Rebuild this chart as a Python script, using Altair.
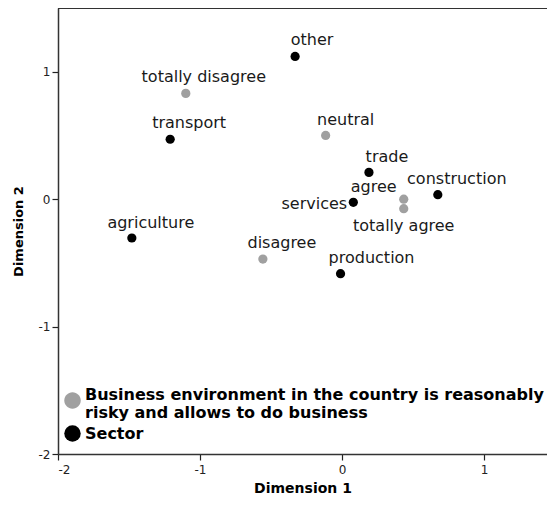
import altair as alt
import pandas as pd

# ---- data ----
labels = ["other", "totally disagree", "transport", "neutral", "trade", "agree",
          "totally agree", "construction", "services", "agriculture", "disagree", "production"]
dim1 = [-0.33, -1.10, -1.21, -0.115, 0.19, 0.435, 0.435, 0.675, 0.08, -1.48, -0.557, -0.01]
dim2 = [1.12, 0.83, 0.47, 0.50, 0.21, 0.0, -0.075, 0.035, -0.025, -0.305, -0.47, -0.585]
G1 = "Business environment in the country is reasonably risky and allows to do business"
G2 = "Sector"
groups = [G2, G1, G2, G1, G2, G1, G1, G2, G2, G2, G1, G2]
ticks = [-2, -1, 0, 1]

df = pd.DataFrame({"label": labels, "d1": dim1, "d2": dim2, "group": groups})

# label placement offsets (pixels), styling only
OFFS = {
    "other": (17, -16), "totally disagree": (18, -16), "transport": (19, -16),
    "neutral": (20, -15), "trade": (18, -15), "agree": (-30, -12),
    "totally agree": (0, 17), "construction": (19, -16), "services": (-39, 2),
    "agriculture": (19, -15), "disagree": (19, -16), "production": (31, -16),
}

FONT = "DejaVu Sans"
xs = alt.Scale(domain=[-2, 1.444], nice=False, zero=False)
ys = alt.Scale(domain=[-2, 1.5], nice=False, zero=False)
cscale = alt.Scale(domain=[G1, G2], range=["#a0a0a0", "#000000"])
# legend symbol for the two-line entry sits slightly lower (between its lines)
sscale = alt.Scale(domain=[G1, G2],
                   range=["M -1 0.72 A 1 1 0 1 0 1 0.72 A 1 1 0 1 0 -1 0.72 Z", "circle"])

leg = alt.Legend(
    title=None, orient="none", legendX=6, legendY=378,
    symbolSize=270, symbolStrokeWidth=0, symbolOpacity=1,
    labelFont=FONT, labelFontWeight="bold", labelFontSize=16, labelColor="#000",
    labelLimit=700, rowPadding=4, labelOffset=4,
    labelExpr="datum.label == 'Sector' ? datum.label : "
              "['Business environment in the country is reasonably', "
              "'risky and allows to do business']",
)

X = alt.X("d1:Q", scale=xs, title="Dimension 1",
          axis=alt.Axis(values=ticks, labelExpr="'' + datum.value", labelPadding=4,
                        titleFontSize=14, titlePadding=6))
Y = alt.Y("d2:Q", scale=ys, title="Dimension 2",
          axis=alt.Axis(values=ticks, labelExpr="'' + datum.value",
                        titleFontSize=13, titlePadding=13))

base = alt.Chart(df)

# invisible layer that carries the legend
ghost = base.mark_point(filled=True, opacity=0, size=1).encode(
    x=X, y=Y,
    color=alt.Color("group:N", scale=cscale, legend=leg),
    shape=alt.Shape("group:N", scale=sscale, legend=leg),
)

points = base.mark_point(filled=True, opacity=1, size=85, shape="circle").encode(
    x=X, y=Y,
    color=alt.Color("group:N", scale=cscale, legend=None),
)

texts = []
for lab in labels:
    dx, dy = OFFS[lab]
    texts.append(
        base.transform_filter(alt.datum.label == lab).mark_text(
            font=FONT, fontSize=16, color="#1a1a1a", align="center",
            baseline="middle", dx=dx, dy=dy,
        ).encode(x=alt.X("d1:Q", scale=xs), y=alt.Y("d2:Q", scale=ys), text="label:N")
    )

# top border of the frame
top_border = alt.Chart(df).mark_rule(color="#333333", strokeWidth=1.5).encode(
    y=alt.value(0)
)

chart = alt.layer(ghost, points, *texts, top_border).properties(
    width=489, height=446,
    autosize=alt.AutoSizeParams(type="none"),
    padding={"left": 50, "top": 0, "right": 0, "bottom": 44},
).configure_view(
    stroke=None
).configure_axis(
    grid=False, domain=True, domainColor="#333333", domainWidth=1.5,
    tickColor="#222", tickSize=6, tickWidth=1.2,
    labelFont=FONT, labelFontSize=12, labelColor="#222", labelPadding=2,
    titleFont=FONT, titleFontWeight="bold", titleColor="#000",
)

chart.save("out.html", embed_options={"renderer": "svg", "actions": False})
